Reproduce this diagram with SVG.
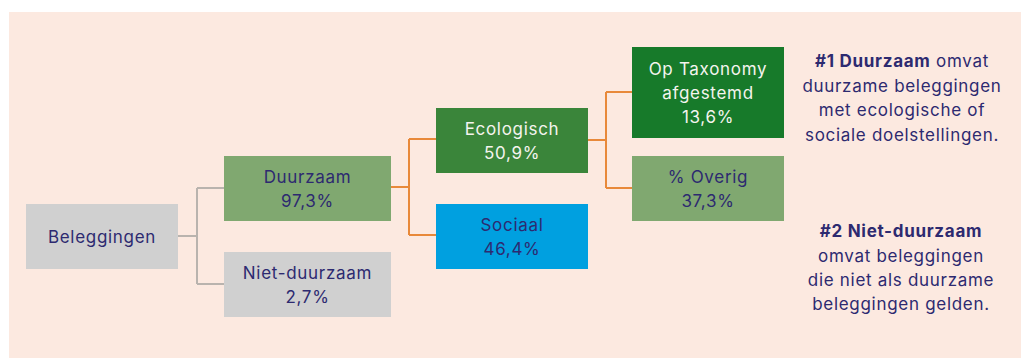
<svg xmlns="http://www.w3.org/2000/svg" width="1021" height="358" viewBox="0 0 1021 358">
<style>
.t{font-family:Inter,"Liberation Sans",sans-serif;font-size:17px;letter-spacing:0.7px;text-anchor:middle;fill:#2d2a70}
.w{fill:#f4f4ee}
.b{font-weight:bold}
.g{fill:none;stroke:#b9b3ae;stroke-width:2}
.o{fill:none;stroke:#e8893a;stroke-width:2}
</style>
<rect x="0" y="0" width="1021" height="358" fill="#ffffff"/>
<rect x="9" y="12" width="1012" height="346" fill="#fce9e0"/>
<g id="connectors">
<path class="g" d="M178 236H197M197 188V284M197 188H224M197 284H224"/>
<path class="o" d="M391 187H409M409 139V235M409 139H436M409 235H436"/>
<path class="o" d="M588 140H606M606 92V188M606 92H632M606 188H632"/>
</g>
<g id="beleggingen">
<rect x="26" y="204" width="152" height="65" fill="#d0d0d0"/>
<text class="t" x="102" y="242.5">Beleggingen</text>
</g>
<g id="duurzaam">
<rect x="224" y="156" width="167" height="65" fill="#80a870"/>
<text class="t" x="307.5" y="183">Duurzaam</text>
<text class="t" x="307.5" y="207">97,3%</text>
</g>
<g id="niet-duurzaam">
<rect x="224" y="252" width="167" height="65" fill="#d0d0d0"/>
<text class="t" x="307.5" y="279">Niet-duurzaam</text>
<text class="t" x="307.5" y="303">2,7%</text>
</g>
<g id="ecologisch">
<rect x="436" y="108" width="152" height="65" fill="#3a853a"/>
<text class="t w" x="512" y="135">Ecologisch</text>
<text class="t w" x="512" y="159">50,9%</text>
</g>
<g id="sociaal">
<rect x="436" y="204" width="152" height="65" fill="#00a0e0"/>
<text class="t" x="512" y="231">Sociaal</text>
<text class="t" x="512" y="255">46,4%</text>
</g>
<g id="taxonomy">
<rect x="632" y="47" width="152" height="91" fill="#177a2a"/>
<text class="t w" x="708" y="75">Op Taxonomy</text>
<text class="t w" x="708" y="98.5">afgestemd</text>
<text class="t w" x="708" y="122.5">13,6%</text>
</g>
<g id="overig">
<rect x="632" y="156" width="152" height="65" fill="#80a870"/>
<text class="t" x="708" y="183">% Overig</text>
<text class="t" x="708" y="207">37,3%</text>
</g>
<g id="note1">
<text class="t" x="902" y="67"><tspan class="b">#1 Duurzaam</tspan> omvat</text>
<text class="t" x="902" y="91.5">duurzame beleggingen</text>
<text class="t" x="902" y="116">met ecologische of</text>
<text class="t" x="902" y="140.5">sociale doelstellingen.</text>
</g>
<g id="note2">
<text class="t b" x="901" y="237">#2 Niet-duurzaam</text>
<text class="t" x="901" y="261.5">omvat beleggingen</text>
<text class="t" x="901" y="286">die niet als duurzame</text>
<text class="t" x="901" y="310">beleggingen gelden.</text>
</g>
</svg>
